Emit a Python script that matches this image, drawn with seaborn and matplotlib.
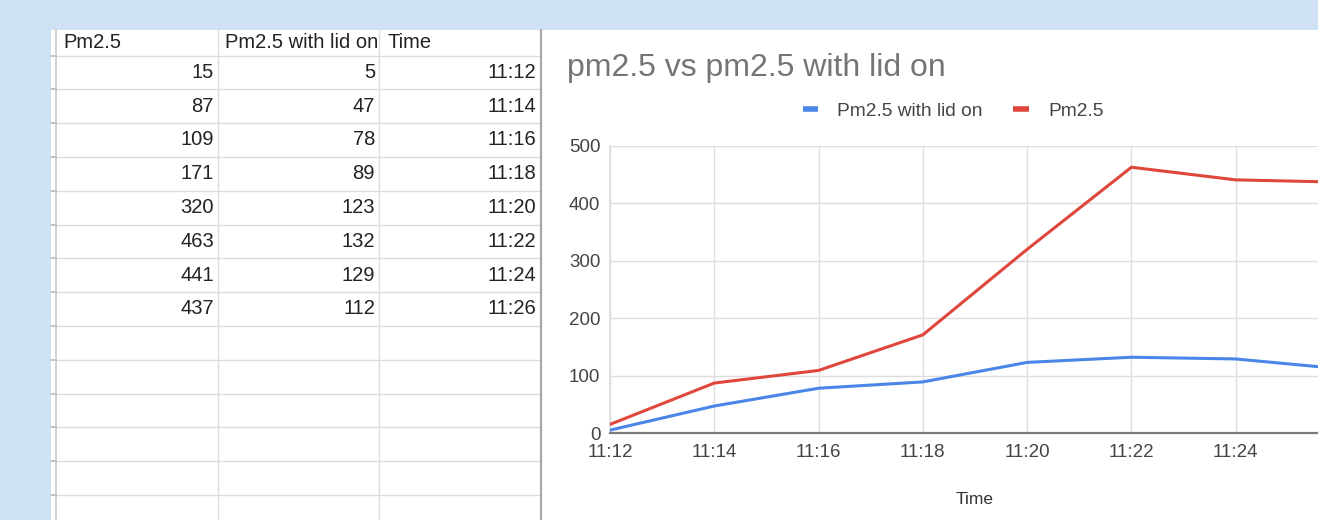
import matplotlib
matplotlib.use("Agg")
import matplotlib.pyplot as plt
import seaborn as sns
import pandas as pd
from matplotlib.lines import Line2D
from matplotlib.patches import Rectangle

# ---- data ----
times = ["11:12", "11:14", "11:16", "11:18", "11:20", "11:22", "11:24", "11:26"]
pm25 = [15, 87, 109, 171, 320, 463, 441, 437]
pm25_lid = [5, 47, 78, 89, 123, 132, 129, 112]
col_headers = ["Pm2.5", "Pm2.5 with lid on", "Time"]
series_names = ["Pm2.5 with lid on", "Pm2.5"]
chart_title = "pm2.5 vs pm2.5 with lid on"
x_title = "Time"
y_ticks = [0, 100, 200, 300, 400, 500]

sns.set_theme(style="white")
plt.rcParams["font.family"] = ["Liberation Sans", "DejaVu Sans"]

W, H = 1318, 520
fig = plt.figure(figsize=(W / 100, H / 100), dpi=100, facecolor="#cfe2f3")


def fx(x):
    return x / W


def fy(y):
    return 1 - y / H


# white sheet area (behind everything)
fig.patches.append(Rectangle((fx(51), 0), 1 - fx(51), fy(30), transform=fig.transFigure,
                             facecolor="white", edgecolor="none", zorder=-10))


def hline(y, x0, x1, color, lw=1.0):
    fig.add_artist(Line2D([fx(x0), fx(x1)], [fy(y), fy(y)], transform=fig.transFigure,
                          color=color, lw=lw, zorder=1))


def vline(x, y0, y1, color, lw=1.0):
    fig.add_artist(Line2D([fx(x), fx(x)], [fy(y0), fy(y1)], transform=fig.transFigure,
                          color=color, lw=lw, zorder=1))


# ---- spreadsheet grid ----
row_h = 33.8
first_line = 55.5
k = 0
while first_line + k * row_h < H:
    y = first_line + k * row_h
    hline(y, 56, 540, "#dcdcdc", 1.0)
    hline(y, 51, 56, "#b8b8b8", 1.2)
    k += 1
vline(56, 30, H, "#c8c8c8", 1.2)
vline(218, 30, H, "#dcdcdc", 1.0)
vline(379, 30, H, "#dcdcdc", 1.0)
vline(540.5, 30, H, "#a8a8a8", 1.6)

tfs = 14.5
tcol = "#222222"
fig.text(fx(63), fy(42.5), col_headers[0], ha="left", va="center", fontsize=tfs, color=tcol)
fig.text(fx(225), fy(42.5), col_headers[1], ha="left", va="center", fontsize=tfs, color=tcol)
fig.text(fx(388), fy(42.5), col_headers[2], ha="left", va="center", fontsize=tfs, color=tcol)
for i, (a, b, t) in enumerate(zip(pm25, pm25_lid, times)):
    yc = first_line + row_h * (i + 0.5)
    fig.text(fx(214), fy(yc), str(a), ha="right", va="center", fontsize=tfs, color=tcol)
    fig.text(fx(375), fy(yc), str(b), ha="right", va="center", fontsize=tfs, color=tcol)
    fig.text(fx(536), fy(yc), t, ha="right", va="center", fontsize=tfs, color=tcol)

# ---- chart ----
minutes = [int(t.split(":")[0]) * 60 + int(t.split(":")[1]) for t in times]
df = pd.DataFrame({
    "minutes": minutes * 2,
    "value": pm25_lid + pm25,
    "series": [series_names[0]] * len(times) + [series_names[1]] * len(times),
})
palette = {series_names[0]: "#4a86e8", series_names[1]: "#e0473c"}

ax = fig.add_axes([fx(610), fy(433), (1340 - 610) / W, (433 - 146) / H])
ax.set_facecolor("none")
sns.lineplot(data=df, x="minutes", y="value", hue="series", hue_order=series_names,
             palette=palette, linewidth=2.2, ax=ax, legend=False, zorder=3)
ax.set_xlim(minutes[0], minutes[-1])
ax.set_ylim(y_ticks[0], y_ticks[-1])
ax.set_xticks(minutes)
ax.set_xticklabels(times)
ax.set_yticks(y_ticks)
ax.grid(True, color="#dedede", lw=1.0)
for s in ["top", "right"]:
    ax.spines[s].set_visible(False)
ax.spines["left"].set_color("#dedede")
ax.spines["bottom"].set_color("#7a7a7a")
ax.spines["bottom"].set_linewidth(1.6)
ax.spines["bottom"].set_zorder(4)
ax.tick_params(axis="both", length=0, labelsize=13.5, colors="#444444")
ax.tick_params(axis="x", pad=8)
ax.tick_params(axis="y", pad=7)
ax.set_xlabel("")
ax.set_ylabel("")

fig.text(fx(975), fy(499), x_title, ha="center", va="center", fontsize=12.5, color="#333333")
fig.text(fx(567), fy(68), chart_title, ha="left", va="center", fontsize=23, color="#757575")

handles = [Line2D([], [], color=palette[n], lw=4, solid_capstyle="butt") for n in series_names]
fig.legend(handles, series_names, loc="center", bbox_to_anchor=(fx(953), fy(111)),
           bbox_transform=fig.transFigure, ncol=2, frameon=False, fontsize=13.8,
           handlelength=0.8, handletextpad=1.0, columnspacing=1.6, labelcolor="#444444")

fig.savefig("out.png", dpi=100, facecolor=fig.get_facecolor())
